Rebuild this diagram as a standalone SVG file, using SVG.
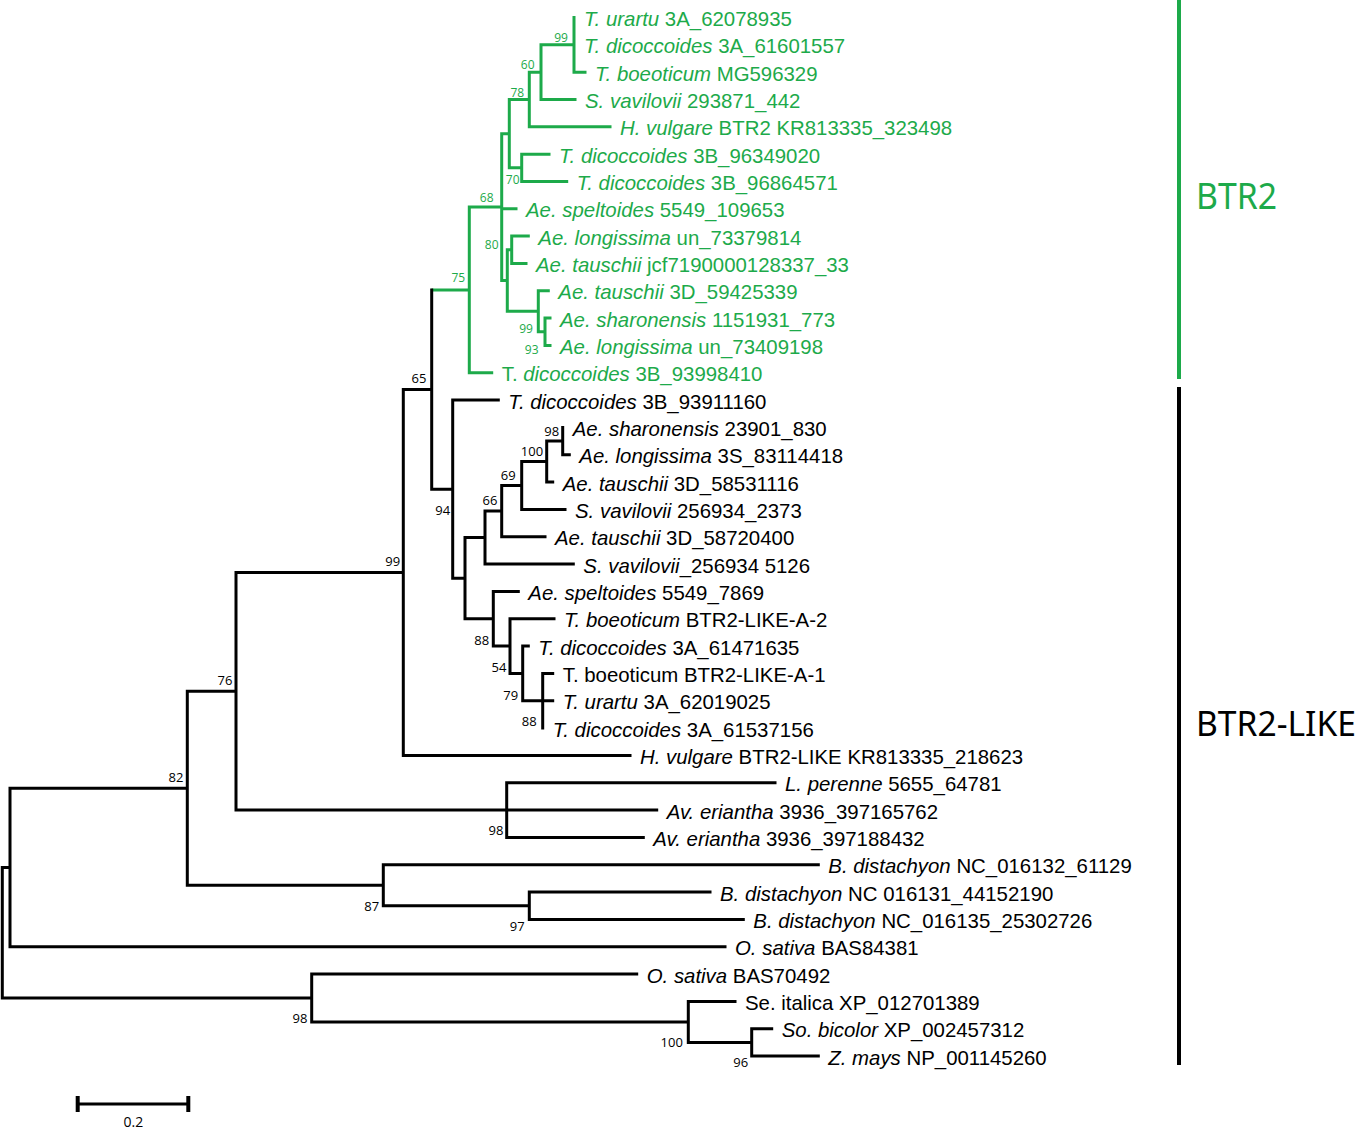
<svg xmlns="http://www.w3.org/2000/svg" width="1358" height="1129" viewBox="0 0 1358 1129">
<style>
.lf{font-family:"Liberation Sans",Arial,sans-serif;font-size:20.4px;fill:#000}
.gr{fill:#1DAA4A}
.it{font-style:italic}
.bs{font-family:"Open Sans","Noto Sans",sans-serif;font-size:13px;text-anchor:middle;fill:#000}
.bsg{font-family:"Open Sans","Noto Sans",sans-serif;font-size:12px;text-anchor:middle;fill:#1DAA4A}
.br{fill:none;stroke:#000;stroke-width:3;stroke-linecap:square}
.brg{fill:none;stroke:#1DAA4A;stroke-width:3;stroke-linecap:square}
.clade{font-family:"Noto Sans","Open Sans",sans-serif}
</style>
<rect width="1358" height="1129" fill="#fff"/>
<g id="connectors">
<path class="brg" d="M574,17.5V72.2M574,72.2H585
M541,44.8V99.5M541,44.8H574M541,99.5H575
M529.3,72.2V126.8M529.3,72.2H541M529.3,126.8H610
M521.7,154.2V181.5M521.7,154.2H549M521.7,181.5H566.7
M509.3,99.5V167.8M509.3,99.5H529.3M509.3,167.8H521.7
M511.7,236.1V263.5M511.7,236.1H528.3M511.7,263.5H526
M545,318.1V345.5M545,318.1H550M545,345.5H550
M538.3,290.8V331.8M538.3,290.8H548.3M538.3,331.8H545
M507.3,249.8V311.3M507.3,249.8H511.7M507.3,311.3H538.3
M501.7,133.7V280.5M501.7,133.7H509.3M501.7,208.8H516M501.7,280.5H507.3
M469.3,207.1V372.8M469.3,207.1H501.7M469.3,372.8H491.7
M433,290H469.3"/>
<path class="br" d="M431.7,290V489.2M431.7,489.2H452.7
M452.7,400.1V578.2M452.7,400.1H498.3M452.7,578.2H465
M465,537.6V618.8M465,537.6H485M465,618.8H493.3
M485,511.1V564.1M485,511.1H501.7M485,564.1H573.3
M501.7,485.5V536.8M501.7,485.5H521.7M501.7,536.8H545
M521.7,461.6V509.4M521.7,461.6H546.7M521.7,509.4H565
M546.7,441.1V482.1M546.7,441.1H562.7M546.7,482.1H552.7
M562.7,427.5V454.8M562.7,454.8H569.3
M493.3,591.4V646.1M493.3,591.4H518.3M493.3,646.1H510
M510,618.8V673.4M510,618.8H554M510,673.4H522.7
M522.7,646.1V700.8M522.7,646.1H528.3M522.7,700.8H542.7
M542.7,673.4V728.1M542.7,673.4H552.7M542.7,700.8H552.7
M403.3,389.6V755.4M403.3,389.6H431.7M403.3,755.4H630
M506.7,782.7V837.4M506.7,782.7H775M506.7,810.1H656.7M506.7,837.4H643.3
M236,572.5V810.1M236,572.5H403.3M236,810.1H506.7
M529.3,892.1V919.4M529.3,892.1H710M529.3,919.4H743.3
M383.3,864.7V905.7M383.3,864.7H818.3M383.3,905.7H529.3
M187.3,691.3V885.2M187.3,691.3H236M187.3,885.2H383.3
M10,788.2V946.7M10,788.2H187.3M10,946.7H725
M751.7,1028.7V1056M751.7,1028.7H771.7M751.7,1056H818.3
M688.3,1001.4V1042.4M688.3,1001.4H735M688.3,1042.4H751.7
M311.7,974.1V1021.9M311.7,974.1H636.7M311.7,1021.9H688.3
M2.3,867.5V998M2.3,867.5H10M2.3,998H311.7"/>
</g>
<g id="bootstrap-green">
<text class="bsg" x="561" y="41.5">99</text>
<text class="bsg" x="527.7" y="69">60</text>
<text class="bsg" x="517.3" y="96.5">78</text>
<text class="bsg" x="512.7" y="184">70</text>
<text class="bsg" x="486.7" y="201.5">68</text>
<text class="bsg" x="491.7" y="249">80</text>
<text class="bsg" x="458.3" y="281.5">75</text>
<text class="bsg" x="526" y="332.5">99</text>
<text class="bsg" x="531.7" y="353.5">93</text>
</g>
<g id="bootstrap-black">
<text class="bs" x="419" y="382.5">65</text>
<text class="bs" x="551.7" y="436">98</text>
<text class="bs" x="532" y="456">100</text>
<text class="bs" x="508.3" y="479.5">69</text>
<text class="bs" x="490" y="505">66</text>
<text class="bs" x="442.7" y="515">94</text>
<text class="bs" x="392.7" y="566">99</text>
<text class="bs" x="481.7" y="644.5">88</text>
<text class="bs" x="499" y="671.5">54</text>
<text class="bs" x="510.7" y="699.5">79</text>
<text class="bs" x="529.3" y="726">88</text>
<text class="bs" x="225" y="684.5">76</text>
<text class="bs" x="496" y="835">98</text>
<text class="bs" x="176" y="781.5">82</text>
<text class="bs" x="371.7" y="910.5">87</text>
<text class="bs" x="517.3" y="931">97</text>
<text class="bs" x="300" y="1022.5">98</text>
<text class="bs" x="671.7" y="1046.5">100</text>
<text class="bs" x="740.7" y="1066.5">96</text>
</g>
<g id="leaf-0"><text class="lf gr" x="584" y="26"><tspan class="it">T. urartu</tspan> 3A_62078935</text></g>
<g id="leaf-1"><text class="lf gr" x="584" y="53.3"><tspan class="it">T. dicoccoides</tspan> 3A_61601557</text></g>
<g id="leaf-2"><text class="lf gr" x="595" y="80.7"><tspan class="it">T. boeoticum</tspan> MG596329</text></g>
<g id="leaf-3"><text class="lf gr" x="585" y="108"><tspan class="it">S. vavilovii</tspan> 293871_442</text></g>
<g id="leaf-4"><text class="lf gr" x="620" y="135.3"><tspan class="it">H. vulgare</tspan> BTR2 KR813335_323498</text></g>
<g id="leaf-5"><text class="lf gr" x="559" y="162.7"><tspan class="it">T. dicoccoides</tspan> 3B_96349020</text></g>
<g id="leaf-6"><text class="lf gr" x="576.7" y="190"><tspan class="it">T. dicoccoides</tspan> 3B_96864571</text></g>
<g id="leaf-7"><text class="lf gr" x="526" y="217.3"><tspan class="it">Ae. speltoides</tspan> 5549_109653</text></g>
<g id="leaf-8"><text class="lf gr" x="538.3" y="244.6"><tspan class="it">Ae. longissima</tspan> un_73379814</text></g>
<g id="leaf-9"><text class="lf gr" x="536" y="272"><tspan class="it">Ae. tauschii</tspan> jcf7190000128337_33</text></g>
<g id="leaf-10"><text class="lf gr" x="558.3" y="299.3"><tspan class="it">Ae. tauschii</tspan> 3D_59425339</text></g>
<g id="leaf-11"><text class="lf gr" x="560" y="326.6"><tspan class="it">Ae. sharonensis</tspan> 1151931_773</text></g>
<g id="leaf-12"><text class="lf gr" x="560" y="354"><tspan class="it">Ae. longissima</tspan> un_73409198</text></g>
<g id="leaf-13"><text class="lf gr" x="501.7" y="381.3">T. <tspan class="it">dicoccoides</tspan> 3B_93998410</text></g>
<g id="leaf-14"><text class="lf" x="508.3" y="408.6"><tspan class="it">T. dicoccoides</tspan> 3B_93911160</text></g>
<g id="leaf-15"><text class="lf" x="572.7" y="436"><tspan class="it">Ae. sharonensis</tspan> 23901_830</text></g>
<g id="leaf-16"><text class="lf" x="579.3" y="463.3"><tspan class="it">Ae. longissima</tspan> 3S_83114418</text></g>
<g id="leaf-17"><text class="lf" x="562.7" y="490.6"><tspan class="it">Ae. tauschii</tspan> 3D_58531116</text></g>
<g id="leaf-18"><text class="lf" x="575" y="517.9"><tspan class="it">S. vavilovii</tspan> 256934_2373</text></g>
<g id="leaf-19"><text class="lf" x="555" y="545.3"><tspan class="it">Ae. tauschii</tspan> 3D_58720400</text></g>
<g id="leaf-20"><text class="lf" x="583.3" y="572.6"><tspan class="it">S. vavilovii</tspan>_256934 5126</text></g>
<g id="leaf-21"><text class="lf" x="528.3" y="599.9"><tspan class="it">Ae. speltoides</tspan> 5549_7869</text></g>
<g id="leaf-22"><text class="lf" x="564" y="627.3"><tspan class="it">T. boeoticum</tspan> BTR2-LIKE-A-2</text></g>
<g id="leaf-23"><text class="lf" x="538.3" y="654.6"><tspan class="it">T. dicoccoides</tspan> 3A_61471635</text></g>
<g id="leaf-24"><text class="lf" x="562.7" y="681.9">T. boeoticum BTR2-LIKE-A-1</text></g>
<g id="leaf-25"><text class="lf" x="562.7" y="709.3"><tspan class="it">T. urartu</tspan> 3A_62019025</text></g>
<g id="leaf-26"><text class="lf" x="552.7" y="736.6"><tspan class="it">T. dicoccoides</tspan> 3A_61537156</text></g>
<g id="leaf-27"><text class="lf" x="640" y="763.9"><tspan class="it">H. vulgare</tspan> BTR2-LIKE KR813335_218623</text></g>
<g id="leaf-28"><text class="lf" x="785" y="791.2"><tspan class="it">L. perenne</tspan> 5655_64781</text></g>
<g id="leaf-29"><text class="lf" x="666.7" y="818.6"><tspan class="it">Av. eriantha</tspan> 3936_397165762</text></g>
<g id="leaf-30"><text class="lf" x="653.3" y="845.9"><tspan class="it">Av. eriantha</tspan> 3936_397188432</text></g>
<g id="leaf-31"><text class="lf" x="828.3" y="873.2"><tspan class="it">B. distachyon</tspan> NC_016132_61129</text></g>
<g id="leaf-32"><text class="lf" x="720" y="900.6"><tspan class="it">B. distachyon</tspan> NC 016131_44152190</text></g>
<g id="leaf-33"><text class="lf" x="753.3" y="927.9"><tspan class="it">B. distachyon</tspan> NC_016135_25302726</text></g>
<g id="leaf-34"><text class="lf" x="735" y="955.2"><tspan class="it">O. sativa</tspan> BAS84381</text></g>
<g id="leaf-35"><text class="lf" x="646.7" y="982.6"><tspan class="it">O. sativa</tspan> BAS70492</text></g>
<g id="leaf-36"><text class="lf" x="745" y="1009.9">Se. italica XP_012701389</text></g>
<g id="leaf-37"><text class="lf" x="781.7" y="1037.2"><tspan class="it">So. bicolor</tspan> XP_002457312</text></g>
<g id="leaf-38"><text class="lf" x="828.3" y="1064.5"><tspan class="it">Z. mays</tspan> NP_001145260</text></g>
<g id="clade-btr2">
<line x1="1179" y1="0" x2="1179" y2="379" stroke="#1DAA4A" stroke-width="4"/>
<text class="clade" x="1196" y="209" font-size="36" fill="#1DAA4A" textLength="81" lengthAdjust="spacingAndGlyphs">BTR2</text>
</g>
<g id="clade-btr2-like">
<line x1="1179" y1="387" x2="1179" y2="1065" stroke="#000" stroke-width="4"/>
<text class="clade" x="1196" y="736" font-size="34" fill="#000" textLength="160" lengthAdjust="spacingAndGlyphs">BTR2-LIKE</text>
</g>
<g id="scale-bar">
<path d="M77.7,1104H188.3" stroke="#000" stroke-width="3" fill="none"/>
<path d="M77.7,1096V1112M188.3,1096V1112" stroke="#000" stroke-width="4" fill="none"/>
<text x="133.3" y="1126.5" font-family="Open Sans, Noto Sans, sans-serif" font-size="14" text-anchor="middle">0.2</text>
</g>
</svg>
